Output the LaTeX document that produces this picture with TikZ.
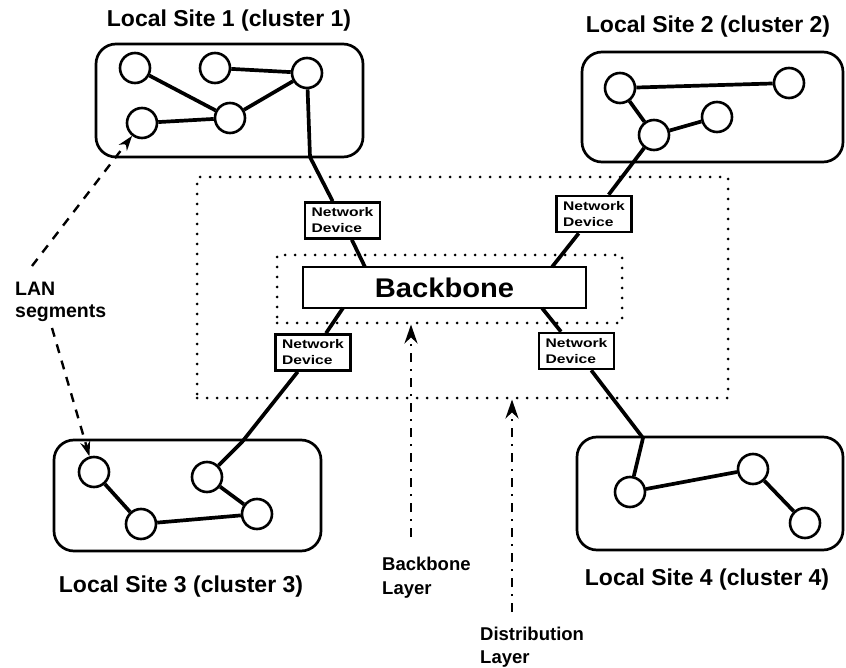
\documentclass[tikz,border=0pt]{standalone}
\usepackage{fontspec}
\setmainfont{Liberation Sans}
\usetikzlibrary{arrows.meta}
\newcommand\ttlfont{\fontsize{23}{27}\selectfont\bfseries}
\newcommand\lblfont{\fontsize{18.5}{24}\selectfont\bfseries}
\newcommand\ndfont{\fontsize{12.5}{16}\selectfont\bfseries}
\newcommand\bbfont{\fontsize{27}{30}\selectfont\bfseries}
\begin{document}
\begin{tikzpicture}[x=1pt,y=-1pt,
  every node/.style={inner sep=0pt},
  sitebox/.style={draw, line width=2.7pt, rounded corners=20pt},
  host/.style={circle, draw, line width=2.6pt, fill=white, minimum size=30pt},
  link/.style={line width=3.7pt, line join=round},
  layerbox/.style={draw, line width=3pt, dash pattern=on 0pt off 10pt, line cap=round},
  devbox/.style={draw, line width=2.6pt, fill=white, minimum width=75pt, minimum height=36pt, align=left, font=\ndfont},
  bbbox/.style={draw, line width=2.7pt, fill=white, minimum width=283pt, minimum height=41pt, font=\bbfont},
  lanarrow/.style={line width=2.4pt, dash pattern=on 9pt off 8pt, -{Stealth[length=15pt,width=10pt]}},
  layerarrow/.style={line width=2.8pt, dash pattern=on 9pt off 7pt on 2pt off 7pt, -{Stealth[length=19pt,width=13pt]}},
  lbl/.style={align=left, font=\lblfont, anchor=north west}
]
\useasboundingbox (0,0) rectangle (846,668);

% layer rectangles
\node[layerbox, minimum width=531pt, minimum height=221pt] (distlayer) at (462.5,287.5) {};
\node[layerbox, minimum width=345pt, minimum height=68pt] (bblayer) at (449.5,289) {};

% site boxes
\node[sitebox, minimum width=267pt, minimum height=113pt] (site1) at (229.5,100.5) {};
\node[sitebox, minimum width=261pt, minimum height=110pt] (site2) at (712.5,107) {};
\node[sitebox, minimum width=267pt, minimum height=111pt] (site3) at (187.5,495.5) {};
\node[sitebox, minimum width=266pt, minimum height=113pt] (site4) at (710,493.5) {};

% titles
\node[anchor=base] (t1) at (229,27) {\ttlfont Local Site 1 (cluster 1)};
\node[anchor=base] (t2) at (708,33) {\ttlfont Local Site 2 (cluster 2)};
\node[anchor=base] (t3) at (181,592) {\ttlfont Local Site 3 (cluster 3)};
\node[anchor=base] (t4) at (707,585) {\ttlfont Local Site 4 (cluster 4)};

% hosts
\node[host] (s1a) at (135,68) {};
\node[host] (s1b) at (215,68) {};
\node[host] (s1c) at (307,73) {};
\node[host] (s1d) at (230,118) {};
\node[host] (s1e) at (142,123) {};

\node[host] (s2f) at (620,88) {};
\node[host] (s2g) at (789,83) {};
\node[host] (s2h) at (654,135) {};
\node[host] (s2i) at (717,117) {};

\node[host] (s3j) at (94,472) {};
\node[host] (s3k) at (207,477) {};
\node[host] (s3l) at (141,524) {};
\node[host] (s3m) at (257,514) {};

\node[host] (s4n) at (630,492) {};
\node[host] (s4o) at (753,469) {};
\node[host] (s4p) at (805,523) {};

% backbone and network devices
\node[bbbox] (bb) at (444.5,287.5) {\scalebox{1.08}[1]{Backbone}};
\node[devbox] (nd1) at (342.5,220.5) {\scalebox{1.25}[1]{Network}\\\scalebox{1.25}[1]{Device}};
\node[devbox] (nd2) at (594,214) {\scalebox{1.25}[1]{Network}\\\scalebox{1.25}[1]{Device}};
\node[devbox] (nd3) at (313,352.5) {\scalebox{1.25}[1]{Network}\\\scalebox{1.25}[1]{Device}};
\node[devbox] (nd4) at (576.5,351) {\scalebox{1.25}[1]{Network}\\\scalebox{1.25}[1]{Device}};

% attachment points
\coordinate (bbn1) at (365,267);
\coordinate (bbn2) at (552,267);
\coordinate (bbs3) at (343,308);
\coordinate (bbs4) at (542,308);
\coordinate (b1) at (310,157);
\coordinate (b3) at (242,442);
\coordinate (b4) at (643,438);

% links
\draw[link] (s1a) -- (s1d) (s1b) -- (s1c) (s1c) -- (s1d) (s1e) -- (s1d);
\draw[link] (s1c) -- (b1) -- (nd1) (nd1) -- (bbn1);

\draw[link] (s2f) -- (s2g) (s2f) -- (s2h) (s2h) -- (s2i);
\draw[link] (s2h) -- (nd2) (nd2) -- (bbn2);

\draw[link] (s3j) -- (s3l) (s3l) -- (s3m) (s3m) -- (s3k);
\draw[link] (s3k) -- (b3) -- (nd3) (nd3) -- (bbs3);

\draw[link] (s4n) -- (s4o) (s4o) -- (s4p);
\draw[link] (s4n) -- (b4) -- (nd4) (nd4) -- (bbs4);

% LAN segments label and arrows
\node[lbl, font=\fontsize{19.5}{22}\selectfont\bfseries] (lan) at (15,282) {LAN\\segments};
\coordinate (lanup) at (32,266);
\coordinate (landn) at (52,328);
\draw[lanarrow] (lanup) -- (s1e);
\draw[lanarrow] (landn) -- (s3j);

% layer labels and arrows
\node[lbl] (bbl) at (382,557) {Backbone\\Layer};
\node[lbl, font=\fontsize{18.5}{23}\selectfont\bfseries] (dll) at (480,627) {Distribution\\Layer};
\coordinate (bltail) at (411,537);
\coordinate (dltail) at (512,612);
\draw[layerarrow] (bltail) -- (bblayer.south -| bltail);
\draw[layerarrow] (dltail) -- (distlayer.south -| dltail);
\end{tikzpicture}
\end{document}
